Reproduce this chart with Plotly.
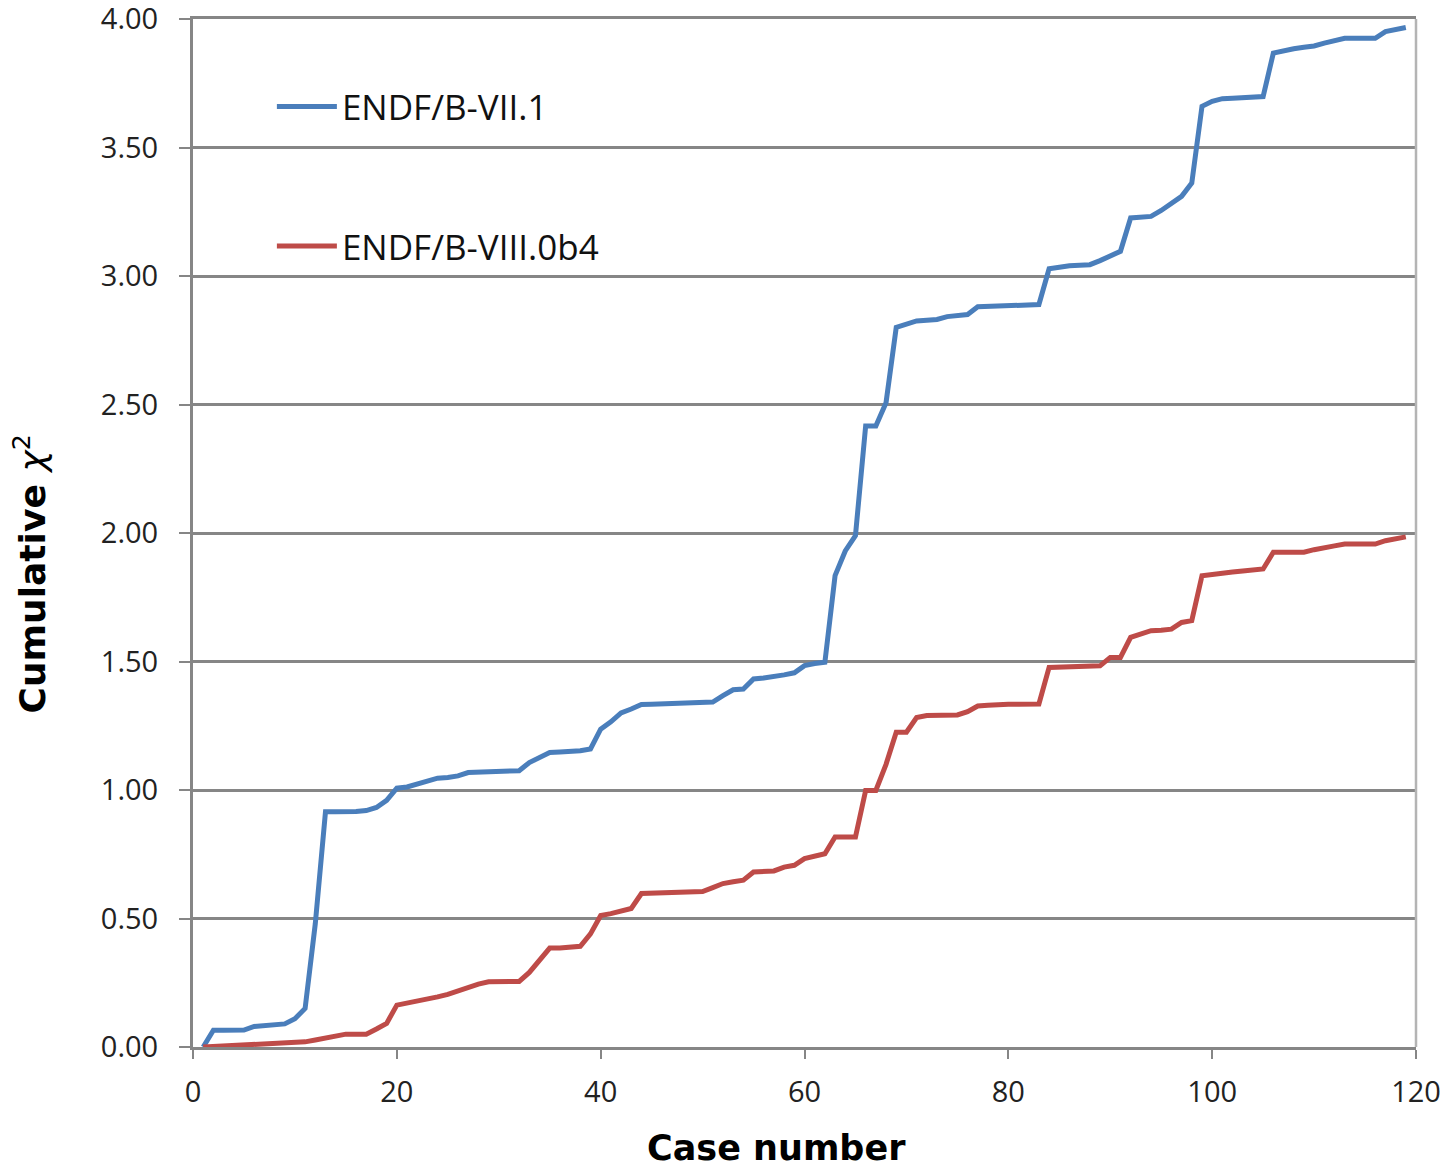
import plotly.graph_objects as go

cases = list(range(1, 120))

endf_b_vii1 = [
    0.000, 0.065, 0.065, 0.065, 0.066, 0.080, 0.082, 0.085, 0.090, 0.110,
    0.150, 0.480, 0.915, 0.915, 0.915, 0.916, 0.920, 0.932, 0.960, 1.007,
    1.012, 1.023, 1.035, 1.046, 1.049, 1.055, 1.068, 1.070, 1.072, 1.073,
    1.074, 1.075, 1.107, 1.125, 1.146, 1.148, 1.150, 1.153, 1.160, 1.237,
    1.265, 1.300, 1.315, 1.333, 1.334, 1.335, 1.336, 1.338, 1.340, 1.341,
    1.342, 1.367, 1.390, 1.393, 1.432, 1.436, 1.441, 1.448, 1.456, 1.484,
    1.492, 1.497, 1.834, 1.930, 1.990, 2.416, 2.416, 2.507, 2.800, 2.815,
    2.825, 2.828, 2.831, 2.842, 2.847, 2.850, 2.880, 2.882, 2.884, 2.886,
    2.887, 2.888, 2.889, 3.028, 3.035, 3.040, 3.042, 3.044, 3.060, 3.080,
    3.096, 3.226, 3.230, 3.232, 3.255, 3.285, 3.310, 3.362, 3.660, 3.680,
    3.690, 3.692, 3.694, 3.696, 3.698, 3.867, 3.878, 3.884, 3.890, 3.895,
    3.906, 3.915, 3.925, 3.925, 3.925, 3.925, 3.951, 3.958, 3.967,
]

endf_b_viii0b4 = [
    0.000, 0.002, 0.003, 0.005, 0.007, 0.009, 0.011, 0.013, 0.015, 0.017,
    0.020, 0.027, 0.035, 0.043, 0.050, 0.050, 0.050, 0.070, 0.092, 0.163,
    0.170, 0.178, 0.186, 0.195, 0.205, 0.220, 0.234, 0.245, 0.254, 0.254,
    0.254, 0.255, 0.290, 0.340, 0.385, 0.385, 0.388, 0.392, 0.440, 0.512,
    0.519, 0.530, 0.539, 0.597, 0.598, 0.599, 0.600, 0.601, 0.602, 0.605,
    0.620, 0.636, 0.643, 0.649, 0.681, 0.683, 0.685, 0.700, 0.707, 0.733,
    0.745, 0.752, 0.817, 0.817, 0.817, 0.998, 0.998, 1.100, 1.225, 1.225,
    1.282, 1.290, 1.290, 1.291, 1.292, 1.305, 1.327, 1.330, 1.333, 1.334,
    1.334, 1.334, 1.335, 1.477, 1.479, 1.480, 1.481, 1.482, 1.483, 1.516,
    1.516, 1.594, 1.608, 1.620, 1.622, 1.626, 1.652, 1.659, 1.834, 1.840,
    1.845, 1.848, 1.852, 1.856, 1.860, 1.925, 1.925, 1.925, 1.925, 1.935,
    1.944, 1.950, 1.957, 1.957, 1.957, 1.957, 1.970, 1.978, 1.985,
]

x_ticks = [0, 20, 40, 60, 80, 100, 120]
y_ticks = [0.0, 0.5, 1.0, 1.5, 2.0, 2.5, 3.0, 3.5, 4.0]
y_tick_labels = ["0.00", "0.50", "1.00", "1.50", "2.00", "2.50", "3.00", "3.50", "4.00"]

BLUE = "#4A7EBB"
RED = "#BE4B48"
GRID = "#868686"

fig = go.Figure()
fig.add_trace(go.Scatter(
    x=cases, y=endf_b_vii1, mode="lines", name="ENDF/B-VII.1",
    line=dict(color=BLUE, width=5), legend="legend",
))
fig.add_trace(go.Scatter(
    x=cases, y=endf_b_viii0b4, mode="lines", name="ENDF/B-VIII.0b4",
    line=dict(color=RED, width=5), legend="legend2",
))

tick_font = dict(family="Open Sans", size=29, color="#222222")
legend_font = dict(family="Open Sans", size=35, color="#111111")

# The page body adds an 8px offset, so the figure is sized to fill the rest of the window.
fig.update_layout(
    width=1442, height=1162,
    margin=dict(l=185, r=34, t=11, b=123),
    paper_bgcolor="white", plot_bgcolor="white",
    showlegend=True,
    legend=dict(x=0.0645, y=0.9146, xanchor="left", yanchor="middle",
                font=legend_font, bgcolor="rgba(0,0,0,0)", itemwidth=60),
    legend2=dict(x=0.0645, y=0.779, xanchor="left", yanchor="middle",
                 font=legend_font, bgcolor="rgba(0,0,0,0)", itemwidth=60),
    xaxis=dict(
        range=[0, 120], tickvals=x_ticks, ticktext=[str(t) for t in x_ticks],
        showgrid=False, zeroline=False, automargin=False,
        showline=True, linecolor=GRID, linewidth=3, mirror=True,
        ticks="outside", ticklen=9, tickwidth=2, tickcolor=GRID,
        tickfont=tick_font, ticklabelstandoff=8, ticklabeloverflow="allow",
    ),
    yaxis=dict(
        range=[0, 4.0], tickvals=y_ticks, ticktext=y_tick_labels,
        showgrid=True, gridcolor=GRID, gridwidth=2.5, zeroline=False,
        automargin=False,
        showline=True, linecolor=GRID, linewidth=3,
        ticks="outside", ticklen=11, tickwidth=2, tickcolor=GRID,
        tickfont=tick_font, ticklabelstandoff=15, ticklabeloverflow="allow",
    ),
    annotations=[
        dict(text="<b>Case number</b>", xref="paper", yref="paper",
             x=0.477, y=-0.098, xanchor="center", yanchor="middle",
             showarrow=False,
             font=dict(family="DejaVu Sans", size=35, color="#000000")),
        dict(text="<b>Cumulative </b><i>χ</i><sup>2</sup>", xref="paper", yref="paper",
             x=-0.133, y=0.46, xanchor="center", yanchor="middle", textangle=-90,
             showarrow=False,
             font=dict(family="DejaVu Sans", size=36, color="#000000")),
    ],
)

# right border line of plot area
fig.add_shape(type="line", xref="paper", yref="paper", x0=1, x1=1, y0=0, y1=1,
              line=dict(color="#b4b4b4", width=2.5), layer="above")

fig.write_html("out.html")
